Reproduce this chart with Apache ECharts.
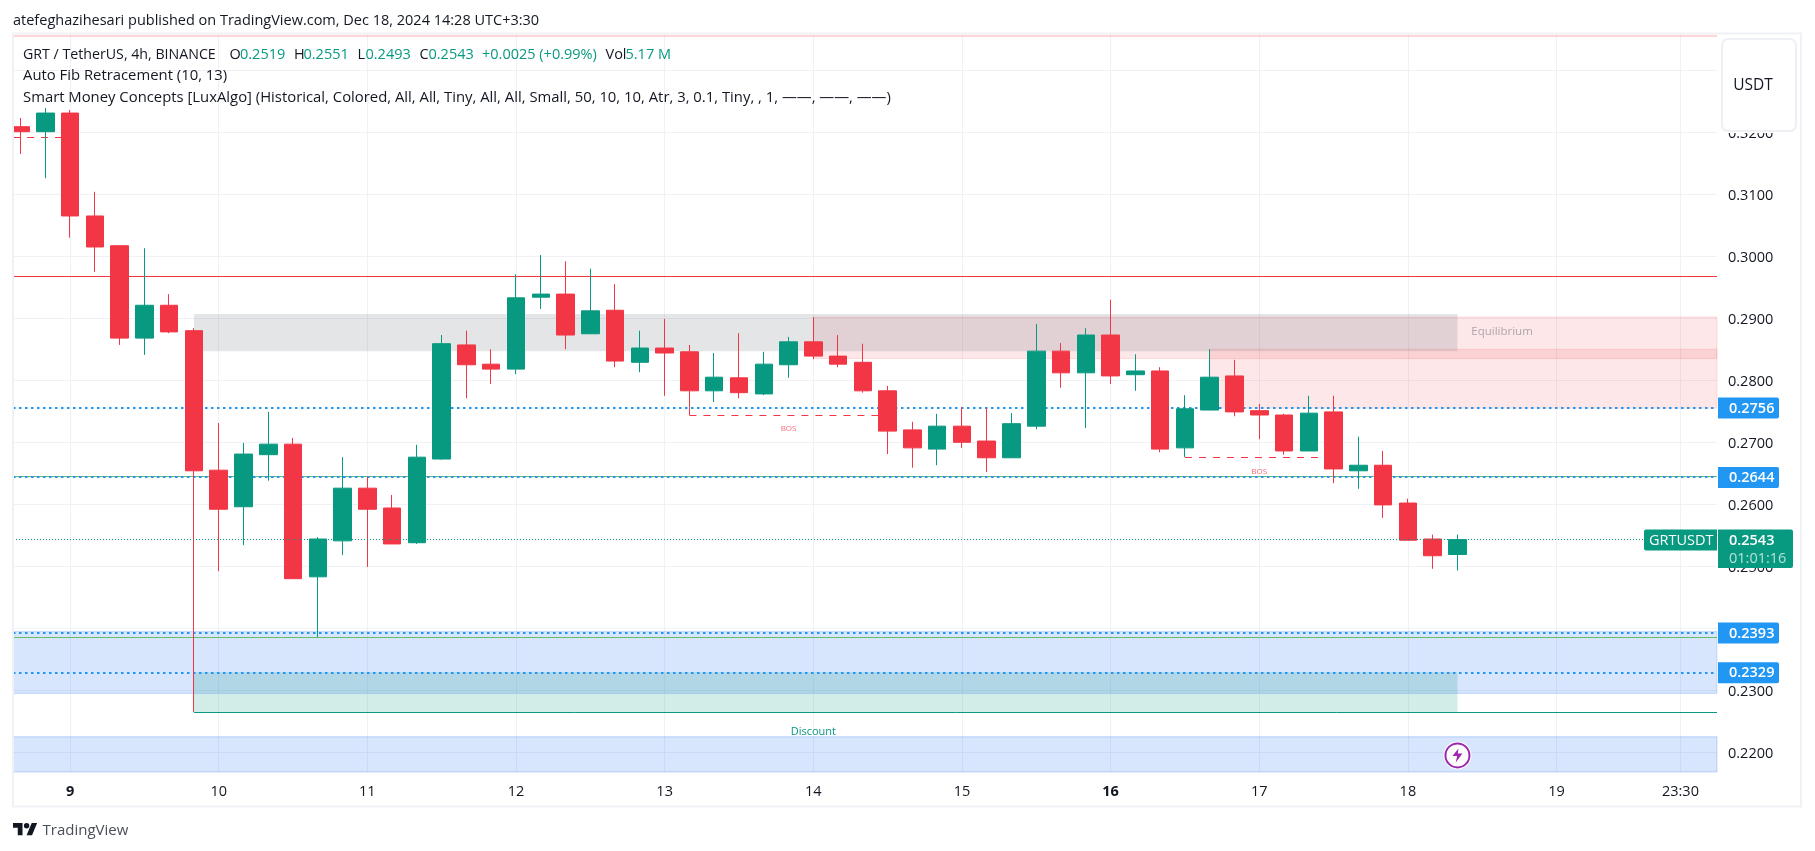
<!DOCTYPE html>
<html><head><meta charset="utf-8">
<style>html,body{margin:0;padding:0;background:#fff}#c{width:1815px;height:851px}</style>
<script src="https://cdn.jsdelivr.net/npm/echarts@6/dist/echarts.min.js"></script>
</head><body><div id="c"></div>
<script>
// candle values (6 bars per day)
const opens  = [.3209,.3201,.3231,.3065,.3017,.2868,.2921,.2880,.2655,.2596,.2680,.2697,.2483,.2541,.2626,.2594,.2538,.2673,.2857,.2826,.2818,.2934,.2939,.2875,.2913,.2829,.2852,.2846,.2783,.2804,.2778,.2825,.2862,.2839,.2829,.2783,.2720,.2689,.2726,.2702,.2675,.2726,.2847,.2812,.2873,.2809,.2815,.2691,.2752,.2807,.2751,.2744,.2686,.2749,.2654,.2663,.2602,.2544,.2519];
const closes = [.3201,.3231,.3065,.3015,.2868,.2921,.2878,.2654,.2592,.2681,.2697,.2480,.2544,.2626,.2592,.2536,.2676,.2859,.2825,.2818,.2933,.2939,.2873,.2912,.2831,.2852,.2844,.2783,.2805,.2780,.2826,.2862,.2839,.2826,.2783,.2718,.2691,.2726,.2700,.2675,.2730,.2847,.2812,.2873,.2807,.2815,.2689,.2754,.2805,.2749,.2744,.2686,.2747,.2657,.2663,.2599,.2542,.2517,.2543];
const lows   = [.3165,.3126,.3030,.2975,.2857,.2841,.2876,.2265,.2492,.2534,.2638,.2480,.2386,.2518,.2499,.2536,.2536,.2672,.2771,.2794,.2810,.2915,.2850,.2875,.2821,.2813,.2775,.2744,.2765,.2771,.2776,.2804,.2834,.2821,.2780,.2681,.2659,.2663,.2691,.2652,.2675,.2721,.2788,.2723,.2794,.2783,.2684,.2676,.2752,.2742,.2705,.2680,.2686,.2634,.2625,.2578,.2542,.2496,.2493];
const highs  = [.3223,.3239,.3236,.3104,.3017,.3013,.2939,.2884,.2731,.2699,.2749,.2707,.2547,.2676,.2644,.2615,.2696,.2873,.2880,.2850,.2971,.3002,.2992,.2980,.2955,.2880,.2899,.2857,.2844,.2876,.2846,.2870,.2902,.2873,.2859,.2791,.2733,.2746,.2757,.2755,.2747,.2891,.2860,.2884,.2930,.2842,.2821,.2776,.2850,.2833,.2762,.2746,.2775,.2775,.2709,.2686,.2609,.2551,.2551];

const yTicks = [.22,.23,.24,.25,.26,.27,.28,.29,.30,.31,.32,.33];
const xTickIndex = [2,8,14,20,26,32,38,44,50,56,62,67];
const xTickLabels = ['9','10','11','12','13','14','15','16','17','18','19','23:30'];
const boldXLabels = ['9','16'];

const dottedLevels = [.2756,.2644,.2393,.2329];
const lastClose = .2543, lastBar = 58;
const countdown = '01:01:16', symbolName = 'GRTUSDT';

const greyZone  = [7, 58, .2907, .2847];
const pinkZoneA = [32, 'end', .2902, .2835];
const pinkZoneB = [48, 'end', .2850, .2755];
const tealZone  = [7, 58, .2329, .2265];
const blueZoneA = ['start', 'end', .2395, .2295];
const blueZoneB = ['start', 'end', .2225, .2168];

const resistance = .2968, topEdge = .3356;
const greenLevels = [.2645, .2386];
const discountLow = [7, .2265];
const bosLines = [[-.3, 2, .3192], [27, 35, .2744], [47, 53, .2676]];
const noteTexts  = ['BOS','BOS','Equilibrium','Discount'];
const noteIndex  = [31, 50, 59.8, 32];
const notePrices = [.2722, .2652, .2879, .2233];
const eventPoint = [58, .2195];

const xMin = -0.3027, xMax = 68.476, yMin = .21682, yMax = .33569;
const UP = '#089981', DOWN = '#F23645', BLUE = '#2196F3', INK = '#131722', GRID = '#F0F1F4';
const FONT = '"Open Sans"';

const x0 = v => v === 'start' ? xMin : v === 'end' ? xMax : v;
const area = (z, fill, border, bw) => [
  {xAxis: x0(z[0]), yAxis: z[2], itemStyle: {color: fill, borderColor: border, borderWidth: bw}},
  {xAxis: x0(z[1]), yAxis: z[3]}
];
const hLine = (p, from, to, color, width, type) => [
  {coord: [from, p], lineStyle: {color, width, type}},
  {coord: [to, p]}
];
const noLabel = {show: false};
// TradingView wordmark glyph
const logo = (pts) => pts.map(p => [13 + p[0] * 0.68, 820.3 + p[1] * 0.68]);

const chart = echarts.init(document.getElementById('c'), null, {renderer: 'canvas'});
chart.setOption({
  animation: false,
  backgroundColor: '#fff',
  grid: {left: 13, top: 35, right: 98, bottom: 79, containLabel: false},
  xAxis: {
    type: 'value', min: xMin, max: xMax,
    axisLine: {show: false},
    axisTick: {show: false, customValues: xTickIndex},
    splitLine: {show: true, lineStyle: {color: GRID, width: 1}},
    axisLabel: {
      customValues: xTickIndex, margin: 12, fontFamily: FONT, fontSize: 14.5, color: INK,
      formatter: v => {
        const s = xTickLabels[xTickIndex.indexOf(v)];
        return boldXLabels.includes(s) ? '{b|' + s + '}' : s;
      },
      rich: {b: {fontFamily: FONT, fontSize: 14.5, fontWeight: 700, color: INK}}
    }
  },
  yAxis: {
    type: 'value', position: 'right', min: yMin, max: yMax,
    axisLine: {show: false},
    axisTick: {show: false, customValues: yTicks},
    splitLine: {show: true, lineStyle: {color: GRID, width: 1}},
    axisLabel: {
      customValues: yTicks, margin: 11, fontFamily: FONT, fontSize: 14.5, color: INK,
      formatter: v => '{v|' + v.toFixed(4) + '}',
      rich: {v: {fontFamily: FONT, fontSize: 14.5, color: INK, padding: [4, 0, 0, 0]}}
    }
  },
  series: [
    {
      name: 'zones', type: 'line', data: [], z: 1, silent: true,
      markArea: {
        z: 1, silent: true, label: noLabel,
        data: [
          area(blueZoneA, 'rgba(33,110,243,0.18)', 'rgba(33,110,243,0.2)', 1),
          area(blueZoneB, 'rgba(33,110,243,0.18)', 'rgba(33,110,243,0.25)', 1),
          area(tealZone, 'rgba(8,153,129,0.18)', 'rgba(8,153,129,0)', 0),
          area(pinkZoneA, 'rgba(242,54,69,0.12)', 'rgba(242,54,69,0.15)', 1),
          area(pinkZoneB, 'rgba(242,54,69,0.12)', 'rgba(242,54,69,0.12)', 1),
          area(greyZone, 'rgba(120,123,134,0.2)', 'rgba(120,123,134,0)', 0)
        ]
      },
      markLine: {
        z: 2, silent: true, symbol: 'none', label: noLabel, animation: false,
        data: [
          hLine(topEdge, xMin, xMax, 'rgba(242,54,69,0.2)', 2, 'solid'),
          hLine(resistance, xMin, xMax, '#F23645', 1, 'solid'),
          ...greenLevels.map(p => hLine(p, xMin, xMax, '#66BB6A', 1, 'solid')),
          hLine(discountLow[1], discountLow[0], xMax, UP, 1, 'solid'),
          ...dottedLevels.map(p => hLine(p, xMin, xMax, BLUE, 2, [2.5, 3.5])),
          ...bosLines.map(b => hLine(b[2], b[0], b[1], DOWN, 1, [7, 7]))
        ]
      }
    },
    {
      name: 'GRT / TetherUS', type: 'candlestick', z: 3, barWidth: 18, clip: true,
      encode: {x: 0, y: [1, 2, 3, 4]},
      itemStyle: {color: UP, color0: DOWN, borderColor: UP, borderColor0: DOWN, borderWidth: 1},
      data: opens.map((o, i) => [i, o, closes[i], lows[i], highs[i]])
    },
    {
      name: 'last', type: 'line', data: [], z: 4, silent: true,
      markLine: {
        z: 4, silent: true, symbol: 'none', label: noLabel,
        data: [hLine(lastClose, xMin, xMax, UP, 1, [1, 2])]
      }
    },
    {
      name: 'notes', type: 'custom', z: 5, silent: true, coordinateSystem: 'cartesian2d',
      data: noteTexts.map((t, i) => [noteIndex[i], notePrices[i]]),
      renderItem: (params, api) => {
        const p = api.coord([api.value(0), api.value(1)]);
        const t = noteTexts[params.dataIndex];
        const isBos = t === 'BOS', isDisc = t === 'Discount';
        return {type: 'text', x: p[0], y: p[1], style: {
          text: t, align: 'center', verticalAlign: 'middle',
          font: (isBos ? 8 : isDisc ? 11 : 11.5) + 'px ' + FONT,
          fill: isBos ? 'rgba(242,54,69,0.75)' : isDisc ? UP : 'rgba(120,123,134,0.6)'
        }};
      }
    },
    {
      name: 'level tags', type: 'custom', z: 10, silent: true, clip: false,
      data: dottedLevels.map(p => [xMax, p]),
      renderItem: (params, api) => {
        const p = api.coord([api.value(0), api.value(1)]);
        return {type: 'group', children: [
          {type: 'rect', shape: {x: p[0] + 1, y: p[1] - 10, width: 61, height: 21, r: [0, 2, 2, 0]}, style: {fill: BLUE}},
          {type: 'text', x: p[0] + 12, y: p[1] + 1, style: {text: api.value(1).toFixed(4), fill: '#fff', font: '600 14.5px ' + FONT, verticalAlign: 'middle'}}
        ]};
      }
    },
    {
      name: 'last tag', type: 'custom', z: 11, silent: true, clip: false,
      data: [[xMax, lastClose]],
      renderItem: (params, api) => {
        const p = api.coord([api.value(0), api.value(1)]);
        return {type: 'group', children: [
          {type: 'rect', shape: {x: p[0] - 73, y: p[1] - 10, width: 73, height: 21, r: [2, 0, 0, 2]}, style: {fill: UP}},
          {type: 'text', x: p[0] - 68, y: p[1] + 1, style: {text: symbolName, fill: '#fff', font: '14.5px ' + FONT, verticalAlign: 'middle'}},
          {type: 'rect', shape: {x: p[0] + 1, y: p[1] - 10, width: 75, height: 38.5, r: [0, 2, 2, 0]}, style: {fill: UP}},
          {type: 'text', x: p[0] + 12, y: p[1] + 1, style: {text: api.value(1).toFixed(4), fill: '#fff', font: '600 14.5px ' + FONT, verticalAlign: 'middle'}},
          {type: 'text', x: p[0] + 12, y: p[1] + 19.5, style: {text: countdown, fill: 'rgba(255,255,255,0.7)', font: '14.5px ' + FONT, verticalAlign: 'middle'}}
        ]};
      }
    },
    {
      name: 'event halo', type: 'scatter', z: 6, silent: true, symbol: 'circle', symbolSize: 28,
      itemStyle: {color: '#fff', opacity: 1}, data: [eventPoint]
    },
    {
      name: 'event ring', type: 'scatter', z: 7, silent: true, symbol: 'circle', symbolSize: 24,
      itemStyle: {color: '#fff', borderColor: '#9C27B0', borderWidth: 2, opacity: 1}, data: [eventPoint]
    },
    {
      name: 'event bolt', type: 'scatter', z: 8, silent: true,
      symbol: 'path://M13 2 L4 14 L11 14 L9 24 L19 10 L12 10 Z', symbolSize: [10, 14],
      itemStyle: {color: '#9C27B0', opacity: 1}, data: [eventPoint]
    }
  ],
  graphic: {elements: [
    {type: 'rect', z: 50, silent: true, shape: {x: 0, y: 33, width: 12.5, height: 775}, style: {fill: '#fff'}},
    {type: 'rect', z: 51, silent: true, shape: {x: 13, y: 33.5, width: 1788, height: 773}, style: {fill: 'none', stroke: '#F0F1F5', lineWidth: 2}},
    {type: 'rect', z: 100, silent: true, shape: {x: 1719, y: 36, width: 80, height: 97}, style: {fill: '#fff'}},
    {type: 'rect', z: 101, silent: true, shape: {x: 1722, y: 39, width: 74, height: 92, r: 6}, style: {fill: '#fff', stroke: '#EEF0F5', lineWidth: 2}},
    {type: 'text', z: 102, silent: true, x: 1753, y: 85.5, style: {text: 'USDT', font: '15.5px ' + FONT, fill: INK, align: 'center', verticalAlign: 'middle'}},
    {type: 'text', z: 102, silent: true, x: 13, y: 21, style: {text: 'atefeghazihesari published on TradingView.com, Dec 18, 2024 14:28 UTC+3:30', font: '14.5px ' + FONT, fill: INK, verticalAlign: 'middle'}},
    {type: 'text', z: 102, silent: true, x: 23, y: 55, style: {text: 'GRT / TetherUS, 4h, BINANCE', font: '14.2px ' + FONT, fill: INK, verticalAlign: 'middle'}},
    ...[['O',229.5,INK],['0.2519',240,UP],['H',294,INK],['0.2551',303.5,UP],['L',357.5,INK],['0.2493',365.5,UP],['C',419.5,INK],['0.2543',428.5,UP],['+0.0025 (+0.99%)',482,UP],['Vol',605.5,INK],['5.17 M',625.5,UP]]
      .map(a => ({type: 'text', z: 102, silent: true, x: a[1], y: 55, style: {text: a[0], font: '14.5px ' + FONT, fill: a[2], verticalAlign: 'middle'}})),
    {type: 'text', z: 102, silent: true, x: 23, y: 76, style: {text: 'Auto Fib Retracement (10, 13)', font: '14.85px ' + FONT, fill: INK, verticalAlign: 'middle'}},
    {type: 'text', z: 102, silent: true, x: 23, y: 98, style: {text: 'Smart Money Concepts [LuxAlgo] (Historical, Colored, All, All, Tiny, All, All, Small, 50, 10, 10, Atr, 3, 0.1, Tiny, , 1, \u2014\u2014, \u2014\u2014, \u2014\u2014)', font: '14.85px ' + FONT, fill: INK, verticalAlign: 'middle'}},
    {type: 'polygon', z: 102, silent: true, shape: {points: logo([[0,4],[14,4],[14,22],[7,22],[7,11],[0,11]])}, style: {fill: INK}},
    {type: 'polygon', z: 102, silent: true, shape: {points: logo([[20,22],[28,22],[35.5,4],[27.5,4]])}, style: {fill: INK}},
    {type: 'circle', z: 102, silent: true, shape: {cx: 13 + 20 * 0.68, cy: 820.3 + 8 * 0.68, r: 4 * 0.68}, style: {fill: INK}},
    {type: 'text', z: 102, silent: true, x: 42.5, y: 831, style: {text: 'TradingView', font: '15px ' + FONT, fill: '#4A4E59', verticalAlign: 'middle'}}
  ]}
});
</script></body></html>
